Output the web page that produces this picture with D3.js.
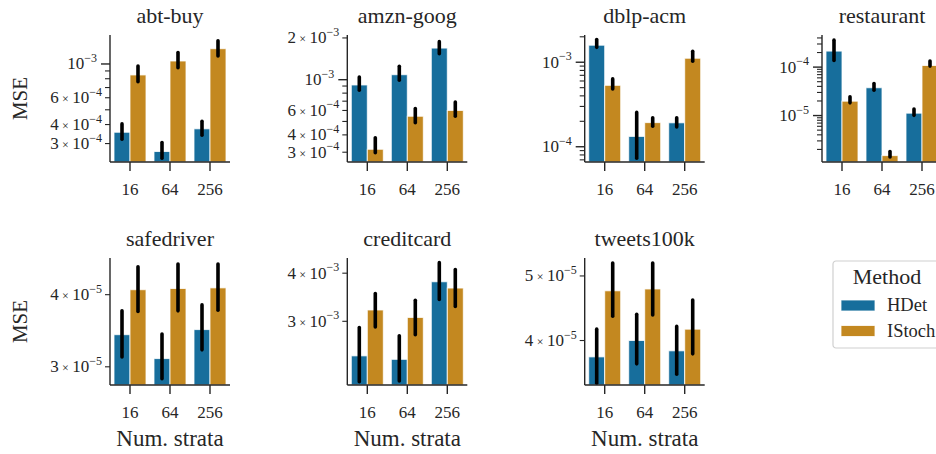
<!DOCTYPE html>
<html>
<head>
<meta charset="utf-8">
<script src="https://cdn.jsdelivr.net/npm/d3@7"></script>
<style>
  body { margin: 0; background: #fff; }
  text { font-family: "Liberation Serif", serif; fill: #262626; }
</style>
</head>
<body>
<svg id="chart" width="936" height="454"></svg>
<script>
// data
var datasets = ["abt-buy", "amzn-goog", "dblp-acm", "restaurant", "safedriver", "creditcard", "tweets100k"];
var strata = ["16", "64", "256"];
var methods = ["HDet", "IStoch"];

var hdetMean = [
  [3.56e-4, 2.66e-4, 3.75e-4],
  [9.16e-4, 1.086e-3, 1.69e-3],
  [1.59e-3, 1.325e-4, 1.92e-4],
  [2.14e-4, 3.75e-5, 1.12e-5],
  [3.41e-5, 3.10e-5, 3.48e-5],
  [2.44e-3, 2.39e-3, 3.80e-3],
  [3.78e-5, 4.00e-5, 3.86e-5]
];
var hdetLow = [
  [3.20e-4, 2.40e-4, 3.40e-4],
  [8.40e-4, 9.90e-4, 1.54e-3],
  [1.50e-3, 7.30e-5, 1.71e-4],
  [1.37e-4, 3.34e-5, 1.01e-5],
  [3.12e-5, 2.86e-5, 3.21e-5],
  [2.09e-3, 2.10e-3, 3.42e-3],
  [3.45e-5, 3.69e-5, 3.56e-5]
];
var hdetHigh = [
  [4.04e-4, 3.05e-4, 4.20e-4],
  [1.045e-3, 1.25e-3, 1.88e-3],
  [1.86e-3, 2.55e-4, 2.20e-4],
  [3.60e-4, 4.60e-5, 1.37e-5],
  [3.75e-5, 3.42e-5, 3.84e-5],
  [2.89e-3, 2.75e-3, 4.26e-3],
  [4.16e-5, 4.38e-5, 4.20e-5]
];
var istochMean = [
  [8.47e-4, 1.046e-3, 1.26e-3],
  [3.15e-4, 5.45e-4, 6.00e-4],
  [5.33e-4, 1.93e-4, 1.115e-3],
  [1.98e-5, 1.49e-6, 1.08e-4],
  [4.08e-5, 4.10e-5, 4.11e-5],
  [3.21e-3, 3.07e-3, 3.66e-3],
  [4.75e-5, 4.78e-5, 4.16e-5]
];
var istochLow = [
  [7.65e-4, 9.46e-4, 1.13e-3],
  [2.97e-4, 4.90e-4, 5.45e-4],
  [4.83e-4, 1.75e-4, 1.03e-3],
  [1.83e-5, 1.40e-6, 1.05e-4],
  [3.74e-5, 3.75e-5, 3.76e-5],
  [2.90e-3, 2.77e-3, 3.28e-3],
  [4.35e-5, 4.37e-5, 3.82e-5]
];
var istochHigh = [
  [9.70e-4, 1.19e-3, 1.42e-3],
  [3.81e-4, 6.20e-4, 6.90e-4],
  [6.35e-4, 2.20e-4, 1.35e-3],
  [2.44e-5, 1.81e-6, 1.33e-4],
  [4.47e-5, 4.52e-5, 4.52e-5],
  [3.54e-3, 3.40e-3, 4.09e-3],
  [5.23e-5, 5.23e-5, 4.60e-5]
];
var yLimits = [
  [2.27e-4, 1.55e-3],
  [2.55e-4, 2.10e-3],
  [6.6e-5, 2.10e-3],
  [1.1e-6, 4.6e-4],
  [2.79e-5, 4.63e-5],
  [2.05e-3, 4.38e-3],
  [3.43e-5, 5.32e-5]
];
// which y ticks carry a label
var labeledTicks = [
  [1e-3, 6e-4, 4e-4, 3e-4],
  [2e-3, 1e-3, 6e-4, 4e-4, 3e-4],
  [1e-3, 1e-4],
  [1e-4, 1e-5],
  [4e-5, 3e-5],
  [4e-3, 3e-3],
  [5e-5, 4e-5]
];

var colors = ["#176e9c", "#c38820"];

var svg = d3.select("#chart");
var colX = [110, 347.3, 584.7, 822];
var rowTop = [35, 258];
var axW = 120, axH = 127;

function sup(sel, v) {
  var e = Math.floor(Math.log10(v) + 1e-9);
  var m = Math.round(v / Math.pow(10, e));
  if (m !== 1) {
    sel.append("tspan").text(m + "\u2009");
    sel.append("tspan").style("font-size", "12px").text("×");
    sel.append("tspan").text("\u200910");
  } else {
    sel.append("tspan").text("10");
  }
  sel.append("tspan").attr("dy", -7.5).style("font-size", "12px").text("−" + Math.abs(e));
}

datasets.forEach(function(name, i) {
  var left = colX[i % 4], top = rowTop[Math.floor(i / 4)];
  var g = svg.append("g").attr("transform", "translate(" + left + "," + top + ")");

  var x = d3.scaleBand().domain(strata).range([0, axW]);
  var xm = d3.scaleBand().domain(methods).range([x.bandwidth() * 0.1, x.bandwidth() * 0.9]);
  var y = d3.scaleLog().domain(yLimits[i]).range([axH, 0]);

  var rows = [];
  strata.forEach(function(s, j) {
    rows.push({s: s, m: "HDet", v: hdetMean[i][j], lo: hdetLow[i][j], hi: hdetHigh[i][j]});
    rows.push({s: s, m: "IStoch", v: istochMean[i][j], lo: istochLow[i][j], hi: istochHigh[i][j]});
  });

  g.selectAll("rect.bar").data(rows).enter().append("rect")
    .attr("class", "bar")
    .attr("x", function(d) { return x(d.s) + xm(d.m); })
    .attr("y", function(d) { return y(d.v); })
    .attr("width", xm.bandwidth())
    .attr("height", function(d) { return axH - y(d.v); })
    .attr("fill", function(d) { return colors[methods.indexOf(d.m)]; })
    .attr("stroke", "#fff")
    .attr("stroke-opacity", 0.8)
    .attr("stroke-width", 1);

  g.selectAll("line.err").data(rows).enter().append("line")
    .attr("class", "err")
    .attr("x1", function(d) { return x(d.s) + xm(d.m) + xm.bandwidth() / 2; })
    .attr("x2", function(d) { return x(d.s) + xm(d.m) + xm.bandwidth() / 2; })
    .attr("y1", function(d) { return y(d.lo); })
    .attr("y2", function(d) { return y(d.hi); })
    .attr("stroke", "#000")
    .attr("stroke-width", 3.6)
    .attr("stroke-linecap", "round");

  // log ticks: every k*10^n inside the limits
  var lo = yLimits[i][0], hi = yLimits[i][1];
  var ticks = [];
  for (var e = Math.floor(Math.log10(lo)); e <= Math.ceil(Math.log10(hi)); e++) {
    for (var k = 1; k <= 9; k++) {
      var v = k * Math.pow(10, e);
      if (v >= lo * 0.999 && v <= hi * 1.001) ticks.push({v: v, major: k === 1});
    }
  }
  g.selectAll("line.yt").data(ticks).enter().append("line")
    .attr("x1", function(d) { return d.major ? -9 : -5; })
    .attr("x2", 0)
    .attr("y1", function(d) { return y(d.v); })
    .attr("y2", function(d) { return y(d.v); })
    .attr("stroke", "#262626")
    .attr("stroke-width", d => d.major ? 1.4 : 1.1);

  labeledTicks[i].forEach(function(v) {
    var isMajor = Math.abs(Math.log10(v) - Math.round(Math.log10(v))) < 1e-6;
    var t = g.append("text")
      .attr("x", isMajor ? -13 : -8)
      .attr("y", y(v) + 5.5)
      .attr("text-anchor", "end")
      .style("font-size", "17px");
    sup(t, v);
  });

  // x axis
  g.selectAll("line.xt").data(strata).enter().append("line")
    .attr("x1", d => x(d) + x.bandwidth() / 2)
    .attr("x2", d => x(d) + x.bandwidth() / 2)
    .attr("y1", axH).attr("y2", axH + 9)
    .attr("stroke", "#262626").attr("stroke-width", 1.4);
  g.selectAll("text.xl").data(strata).enter().append("text")
    .attr("x", d => x(d) + x.bandwidth() / 2)
    .attr("y", axH + 33)
    .attr("text-anchor", "middle")
    .style("font-size", "17px")
    .text(d => d);

  g.append("line").attr("x1", 0).attr("x2", 0).attr("y1", 0).attr("y2", axH)
    .attr("stroke", "#262626").attr("stroke-width", 1.4);
  g.append("line").attr("x1", 0).attr("x2", axW).attr("y1", axH).attr("y2", axH)
    .attr("stroke", "#262626").attr("stroke-width", 1.4);

  g.append("text")
    .attr("x", axW / 2).attr("y", -12)
    .attr("text-anchor", "middle")
    .style("font-size", "22px")
    .text(name);

  if (i % 4 === 0) {
    g.append("text")
      .attr("transform", "translate(" + (-left + 27) + "," + (axH / 2) + ") rotate(-90)")
      .attr("text-anchor", "middle")
      .style("font-size", "21px")
      .text("MSE");
  }
  if (i >= 4) {
    g.append("text")
      .attr("x", axW / 2).attr("y", axH + 61)
      .attr("text-anchor", "middle")
      .style("font-size", "23px")
      .text("Num. strata");
  }
});

// legend
var lg = svg.append("g").attr("transform", "translate(833,261)");
lg.append("rect").attr("width", 120).attr("height", 87).attr("rx", 3)
  .attr("fill", "#fff").attr("stroke", "#d0d0d0").attr("stroke-width", 1.2);
lg.append("text").attr("x", 54).attr("y", 23).attr("text-anchor", "middle")
  .style("font-size", "22px").text("Method");
methods.forEach(function(m, j) {
  lg.append("rect").attr("x", 8).attr("y", 39 + j * 25.5).attr("width", 34).attr("height", 11)
    .attr("fill", colors[j]).attr("stroke", "#fff").attr("stroke-opacity", 0.8);
  lg.append("text").attr("x", 54).attr("y", 50 + j * 26)
    .style("font-size", "18.5px").text(m);
});
</script>
</body>
</html>
